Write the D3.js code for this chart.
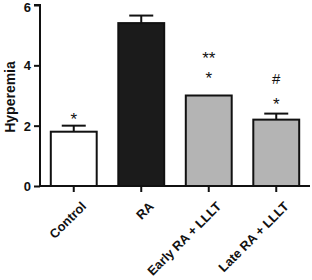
<!DOCTYPE html>
<html><head><meta charset="utf-8">
<script src="https://cdn.jsdelivr.net/npm/d3@7"></script>
<style>body{margin:0;background:#fff}svg{display:block}text{font-family:"Liberation Sans",Arial,sans-serif;font-weight:bold}</style>
</head><body>
<script>
const categories = ["Control", "RA", "Early RA + LLLT", "Late RA + LLLT"];
const values = [1.8, 5.4, 3.0, 2.2];
const errors = [0.2, 0.25, 0, 0.2];
const fills = ["#ffffff", "#1b1b1b", "#b4b4b4", "#b4b4b4"];
const annotations = [["*"], [], ["**", "*"], ["#", "*"]];
const annotationLevels = [[2.35], [], [4.37, 3.71], [3.58, 2.85]];
const yTicks = [0, 2, 4, 6];
const yLabel = "Hyperemia";

const W = 312, H = 280;
const svg = d3.select("body").append("svg").attr("width", W).attr("height", H);
const x = d3.scaleBand().domain(categories).range([40, 310]).paddingInner(0.32).paddingOuter(0.16);
const y = d3.scaleLinear().domain([0, 6]).range([186, 5]);

// bars
svg.selectAll("rect.bar").data(categories).enter().append("rect")
  .attr("x", d => x(d)).attr("width", x.bandwidth())
  .attr("y", (d, i) => y(values[i])).attr("height", (d, i) => y(0) - y(values[i]))
  .attr("fill", (d, i) => fills[i]).attr("stroke", "#111").attr("stroke-width", 2);

// error bars
categories.forEach((c, i) => {
  if (errors[i] <= 0) return;
  const cx = x(c) + x.bandwidth() / 2;
  svg.append("line").attr("x1", cx).attr("x2", cx).attr("y1", y(values[i])).attr("y2", y(values[i] + errors[i])).attr("stroke", "#111").attr("stroke-width", 2);
  svg.append("line").attr("x1", cx - 12).attr("x2", cx + 12).attr("y1", y(values[i] + errors[i])).attr("y2", y(values[i] + errors[i])).attr("stroke", "#111").attr("stroke-width", 2);
});

// annotations (level = vertical centre of symbol, in data units)
categories.forEach((c, i) => {
  const cx = x(c) + x.bandwidth() / 2;
  annotations[i].forEach((s, k) => {
    const lvl = annotationLevels[i][k];
    svg.append("text").attr("x", cx).attr("y", y(lvl) + (s === "#" ? 5.5 : 9.5))
      .attr("text-anchor", "middle").attr("font-size", s === "#" ? 15 : 17)
      .style("font-weight", "normal").attr("fill", "#111").text(s);
  });
});

// y axis
const yAxis = svg.append("g").attr("transform", "translate(40,0)")
  .call(d3.axisLeft(y).tickValues(yTicks).tickSize(6).tickPadding(3).tickFormat(d3.format("d")));
yAxis.select(".domain").attr("stroke", "#111").attr("stroke-width", 2).attr("d", "M-6,5H0V186");
yAxis.selectAll(".tick line").attr("stroke", "#111").attr("stroke-width", 2);
yAxis.selectAll("text").attr("font-size", 13).attr("fill", "#111")
  .style("font-family", "Liberation Sans, Arial").style("font-weight", "bold")
  .attr("dy", d => d === 6 ? "0.5em" : "0.35em");

// x axis
const xAxis = svg.append("g").attr("transform", "translate(0,186)")
  .call(d3.axisBottom(x).tickSize(6).tickSizeOuter(0).tickPadding(4));
xAxis.select(".domain").attr("stroke", "#111").attr("stroke-width", 2).attr("d", "M40,0H310");
xAxis.selectAll(".tick line").attr("stroke", "#111").attr("stroke-width", 2);
xAxis.selectAll("text").attr("font-size", 12.8).attr("fill", "#111")
  .style("font-weight", "bold")
  .attr("text-anchor", "end").attr("dy", "0.35em")
  .attr("transform", "translate(3,11) rotate(-45)");

// y label
svg.append("text").attr("transform", "translate(15,97) rotate(-90)").attr("text-anchor", "middle")
  .attr("font-size", 14).attr("fill", "#111").text(yLabel);
</script>
</body></html>
